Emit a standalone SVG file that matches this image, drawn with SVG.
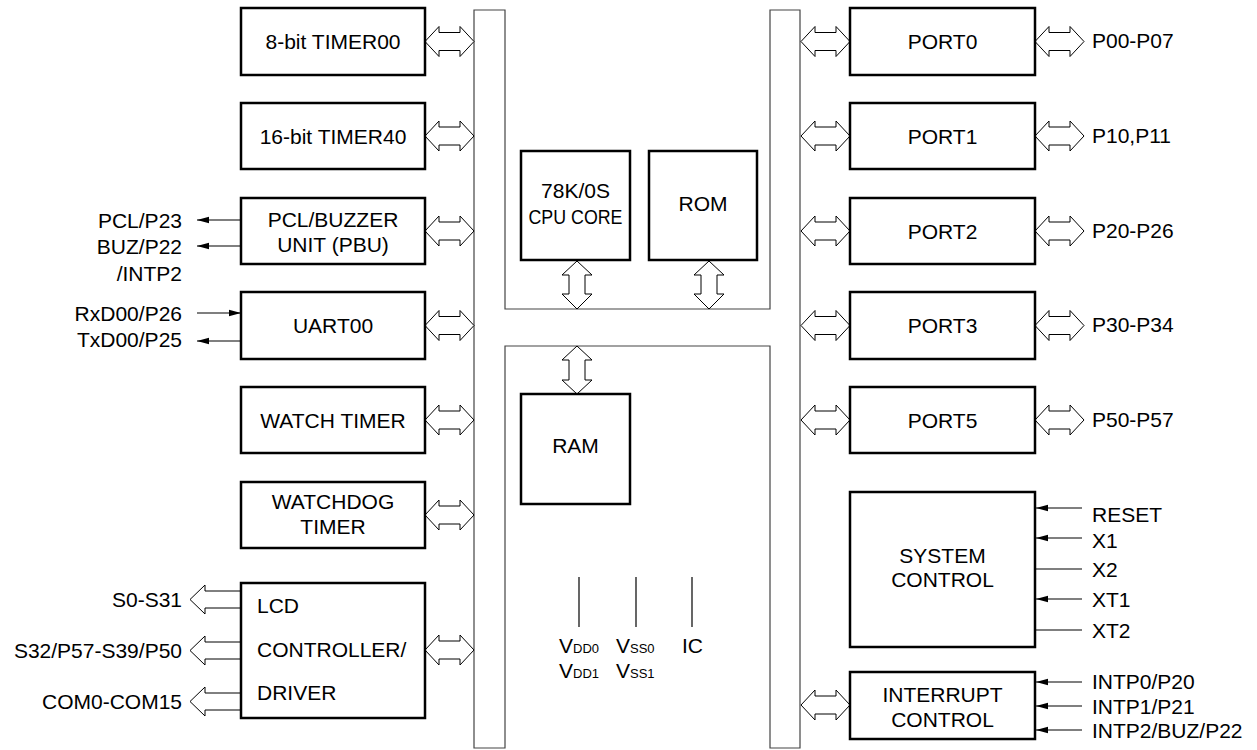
<svg xmlns="http://www.w3.org/2000/svg" width="1257" height="750" viewBox="0 0 1257 750">
<style>
text{font-family:"Liberation Sans",Arial,sans-serif;font-size:21px;fill:#000}
.box{fill:#fff;stroke:#000;stroke-width:2.5}
.bus{fill:none;stroke:#444;stroke-width:1.2}
.arr{fill:#fff;stroke:#000;stroke-width:1}
.sig{stroke:#000;stroke-width:1.2;fill:none}
.c{text-anchor:middle}
.r{text-anchor:end}
.s{font-size:13px}
</style>
<defs>
<path id="dbl" d="M0,0 L14,-15 L14,-9 L35,-9 L35,-15 L49,0 L35,15 L35,9 L14,9 L14,15 Z"/>
<marker id="ah" viewBox="0 0 12 8" refX="12" refY="4" markerWidth="12" markerHeight="8" markerUnits="userSpaceOnUse" orient="auto">
<path d="M0,0.8 L12,4 L0,7.2 Z" fill="#000"/>
</marker>
</defs>
<g id="bus">
<path class="bus" d="M474,10 H505 V309 H770 V10 H800 V748 H770 V346 H505 V748 H474 Z"/>
</g>
<g id="connectors">
<use href="#dbl" class="arr" x="425" y="41.5"/>
<use href="#dbl" class="arr" x="425" y="136"/>
<use href="#dbl" class="arr" x="425" y="231"/>
<use href="#dbl" class="arr" x="425" y="325.5"/>
<use href="#dbl" class="arr" x="425" y="420"/>
<use href="#dbl" class="arr" x="425" y="515"/>
<use href="#dbl" class="arr" x="425" y="650"/>
<use href="#dbl" class="arr" x="801" y="41.5"/>
<use href="#dbl" class="arr" x="801" y="136"/>
<use href="#dbl" class="arr" x="801" y="231"/>
<use href="#dbl" class="arr" x="801" y="325.5"/>
<use href="#dbl" class="arr" x="801" y="420"/>
<use href="#dbl" class="arr" x="801" y="705"/>
<use href="#dbl" class="arr" x="1035" y="41.5"/>
<use href="#dbl" class="arr" x="1035" y="136"/>
<use href="#dbl" class="arr" x="1035" y="231"/>
<use href="#dbl" class="arr" x="1035" y="325.5"/>
<use href="#dbl" class="arr" x="1035" y="420"/>
<path class="arr" d="M577,261 L592,275 L585,275 L585,294 L592,294 L577,309 L562,294 L569,294 L569,275 L562,275 Z"/>
<path class="arr" d="M709,261 L724,275 L717,275 L717,294 L724,294 L709,309 L694,294 L701,294 L701,275 L694,275 Z"/>
<path class="arr" d="M577,346 L592,360 L585,360 L585,380 L592,380 L577,394 L562,380 L569,380 L569,360 L562,360 Z"/>
<path class="arr" d="M241,591 L205,591 L205,585 L190,599.5 L205,614 L205,608 L241,608"/>
<path class="arr" d="M241,642 L205,642 L205,636 L190,650.5 L205,665 L205,659 L241,659"/>
<path class="arr" d="M241,693 L205,693 L205,687 L190,701.5 L205,716 L205,710 L241,710"/>
<line class="sig" x1="241" y1="220" x2="197" y2="220" marker-end="url(#ah)"/>
<line class="sig" x1="241" y1="246" x2="197" y2="246" marker-end="url(#ah)"/>
<line class="sig" x1="197" y1="313" x2="241" y2="313" marker-end="url(#ah)"/>
<line class="sig" x1="241" y1="341" x2="197" y2="341" marker-end="url(#ah)"/>
<line class="sig" x1="1082" y1="508" x2="1036" y2="508" marker-end="url(#ah)"/>
<line class="sig" x1="1082" y1="538" x2="1036" y2="538" marker-end="url(#ah)"/>
<line class="sig" x1="1082" y1="569" x2="1036" y2="569"/>
<line class="sig" x1="1082" y1="599" x2="1036" y2="599" marker-end="url(#ah)"/>
<line class="sig" x1="1082" y1="630" x2="1036" y2="630"/>
<line class="sig" x1="1082" y1="682" x2="1036" y2="682" marker-end="url(#ah)"/>
<line class="sig" x1="1082" y1="706" x2="1036" y2="706" marker-end="url(#ah)"/>
<line class="sig" x1="1082" y1="730" x2="1036" y2="730" marker-end="url(#ah)"/>
<line class="sig" x1="579" y1="577" x2="579" y2="627"/>
<line class="sig" x1="636" y1="577" x2="636" y2="627"/>
<line class="sig" x1="692" y1="577" x2="692" y2="627"/>
</g>
<g id="timer00"><rect class="box" x="241" y="8" width="184" height="67"/><text class="c" x="333" y="49">8-bit TIMER00</text></g>
<g id="timer40"><rect class="box" x="241" y="103" width="184" height="66"/><text class="c" x="333" y="143.5">16-bit TIMER40</text></g>
<g id="pbu"><rect class="box" x="241" y="198" width="184" height="66"/><text class="c" x="333" y="227">PCL/BUZZER</text><text class="c" x="333" y="252">UNIT (PBU)</text>
<text class="r" x="182" y="228">PCL/P23</text><text class="r" x="182" y="254">BUZ/P22</text><text class="r" x="182" y="281">/INTP2</text></g>
<g id="uart00"><rect class="box" x="241" y="292" width="184" height="67"/><text class="c" x="333" y="333">UART00</text>
<text class="r" x="182" y="321">RxD00/P26</text><text class="r" x="182" y="347">TxD00/P25</text></g>
<g id="watch"><rect class="box" x="241" y="387" width="184" height="66"/><text class="c" x="333" y="427.5">WATCH TIMER</text></g>
<g id="watchdog"><rect class="box" x="241" y="482" width="184" height="66"/><text class="c" x="333" y="509">WATCHDOG</text><text class="c" x="333" y="534">TIMER</text></g>
<g id="lcd"><rect class="box" x="241" y="583" width="184" height="135"/>
<text x="257" y="613">LCD</text><text x="257" y="657">CONTROLLER/</text><text x="257" y="700">DRIVER</text>
<text class="r" x="182" y="607">S0-S31</text><text class="r" x="182" y="658">S32/P57-S39/P50</text><text class="r" x="182" y="709">COM0-COM15</text></g>
<g id="cpu"><rect class="box" x="521" y="151" width="109" height="109"/><text class="c" x="575.5" y="198">78K/0S</text><text class="c" x="575.5" y="224" textLength="94" lengthAdjust="spacingAndGlyphs">CPU CORE</text></g>
<g id="rom"><rect class="box" x="649" y="151" width="108" height="109"/><text class="c" x="703" y="211">ROM</text></g>
<g id="ram"><rect class="box" x="521" y="394" width="109" height="110"/><text class="c" x="575.5" y="453">RAM</text></g>
<g id="power"><text x="559" y="653">V<tspan class="s">DD0</tspan></text><text x="559" y="678">V<tspan class="s">DD1</tspan></text>
<text x="616" y="653">V<tspan class="s">SS0</tspan></text><text x="616" y="678">V<tspan class="s">SS1</tspan></text>
<text x="682" y="653">IC</text></g>
<g id="port0"><rect class="box" x="850" y="8" width="185" height="67"/><text class="c" x="942.5" y="49">PORT0</text><text x="1092" y="48">P00-P07</text></g>
<g id="port1"><rect class="box" x="850" y="103" width="185" height="66"/><text class="c" x="942.5" y="143.5">PORT1</text><text x="1092" y="143">P10,P11</text></g>
<g id="port2"><rect class="box" x="850" y="198" width="185" height="66"/><text class="c" x="942.5" y="238.5">PORT2</text><text x="1092" y="238">P20-P26</text></g>
<g id="port3"><rect class="box" x="850" y="292" width="185" height="67"/><text class="c" x="942.5" y="333">PORT3</text><text x="1092" y="332">P30-P34</text></g>
<g id="port5"><rect class="box" x="850" y="387" width="185" height="66"/><text class="c" x="942.5" y="427.5">PORT5</text><text x="1092" y="427">P50-P57</text></g>
<g id="sysctl"><rect class="box" x="850" y="492" width="185" height="155"/><text class="c" x="942.5" y="563">SYSTEM</text><text class="c" x="942.5" y="587">CONTROL</text>
<text x="1092" y="522">RESET</text><text x="1092" y="548">X1</text><text x="1092" y="577">X2</text><text x="1092" y="607">XT1</text><text x="1092" y="638">XT2</text></g>
<g id="intctl"><rect class="box" x="850" y="672" width="185" height="67"/><text class="c" x="942.5" y="702">INTERRUPT</text><text class="c" x="942.5" y="727">CONTROL</text>
<text x="1092" y="689">INTP0/P20</text><text x="1092" y="714">INTP1/P21</text><text x="1092" y="738">INTP2/BUZ/P22</text></g>
</svg>
